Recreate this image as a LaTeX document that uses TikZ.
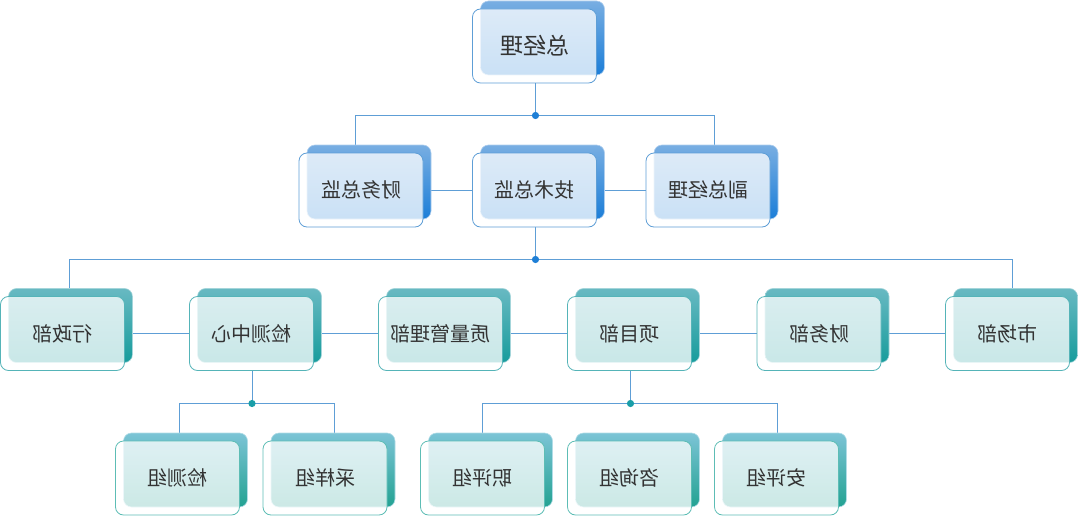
\documentclass[tikz,border=0pt]{standalone}
\usepackage{fontspec}
\newfontfamily\cjk{Noto Sans CJK SC}
\usetikzlibrary{calc}
\definecolor{lineblue}{HTML}{5E9ED6}
\definecolor{dotblue}{HTML}{1E7FD6}
\definecolor{dotteal}{HTML}{1A9EA8}
\definecolor{bordblue}{HTML}{5E9ED6}
\definecolor{bordteal}{HTML}{55B4B8}
\definecolor{bordgreen}{HTML}{5DBDB5}
\definecolor{blight}{HTML}{78AEE2}
\definecolor{bdark}{HTML}{1C7ED8}
\definecolor{tlight}{HTML}{68B9C2}
\definecolor{tdark}{HTML}{179C9C}
\definecolor{glight}{HTML}{7CC4D6}
\definecolor{gdark}{HTML}{23A292}
\definecolor{txt}{HTML}{333333}
\pgfdeclarelayer{bg}
\pgfsetlayers{bg,main}
\tikzset{
  boxbase/.style={rounded corners=8pt, minimum width=124pt, minimum height=74pt, inner sep=0pt},
  shadowbox/.style={boxbase, draw=#1!60!white, line width=0.6pt, shading angle=45},
  sblue/.style={shadowbox=blight, top color=blight, bottom color=bdark},
  steal/.style={shadowbox=tlight, top color=tlight, bottom color=tdark},
  sgreen/.style={shadowbox=glight, top color=glight, bottom color=gdark},
  frontbox/.style={boxbase, fill=white, fill opacity=0.77, text opacity=1, line width=0.8pt, text=txt, font=\cjk\fontsize{20}{24}\selectfont},
  fblue/.style={frontbox, draw=bordblue},
  fteal/.style={frontbox, draw=bordteal},
  fgreen/.style={frontbox, draw=bordgreen},
  conn/.style={draw=lineblue, line width=0.8pt},
}
\newcommand\orgnode[5]{%
  \node[s#1] (#2s) at ($(#3)+(8,-8)$) {};
  \node[f#1] (#2) at (#3) {#5};
}
\begin{document}
\begin{tikzpicture}[x=1pt,y=-1pt]
\useasboundingbox (0,0) rectangle (1078,516);
% level 0
\orgnode{blue}{zjl}{534.5,46}{}{\reflectbox{\fontsize{23}{27}\selectfont 总经理}}
% level 1
\orgnode{blue}{cwzj}{361,190}{}{\reflectbox{财务总监}}
\orgnode{blue}{jszj}{534.5,190}{}{\reflectbox{技术总监}}
\orgnode{blue}{fzjl}{708,190}{}{\reflectbox{副总经理}}
% level 2
\orgnode{teal}{xzb}{62.5,333.5}{}{\reflectbox{行政部}}
\orgnode{teal}{jczx}{251.5,333.5}{}{\reflectbox{检测中心}}
\orgnode{teal}{zlgl}{440.5,333.5}{}{\reflectbox{质量管理部}}
\orgnode{teal}{xmb}{629.5,333.5}{}{\reflectbox{项目部}}
\orgnode{teal}{cwb}{819,333.5}{}{\reflectbox{财务部}}
\orgnode{teal}{scb}{1007.5,333.5}{}{\reflectbox{市场部}}
% level 3
\orgnode{green}{jcz}{177.5,478}{}{\reflectbox{检测组}}
\orgnode{green}{cyz}{325,478}{}{\reflectbox{采样组}}
\orgnode{green}{zpz}{482.5,478}{}{\reflectbox{职评组}}
\orgnode{green}{zxz}{629.5,478}{}{\reflectbox{咨询组}}
\orgnode{green}{apz}{776.5,478}{}{\reflectbox{安评组}}
% junction coordinates
\coordinate (d1) at (535.5,115.5);
\coordinate (d2) at (535.5,259.5);
\coordinate (d3) at (252,403.5);
\coordinate (d4) at (630.5,403.5);
\begin{pgfonlayer}{bg}
  \draw[conn] (zjl.south -| d1) -- (d1);
  \draw[conn] ([xshift=-6pt]cwzj.north) |- (d1) -| ([xshift=6pt]fzjl.north);
  \draw[conn] (cwzj.east) -- (jszj.west);
  \draw[conn] (jszj.east) -- (fzjl.west);
  \draw[conn] (jszj.south -| d2) -- (d2);
  \draw[conn] ([xshift=7pt]xzb.north) |- (d2) -| ([xshift=4.5pt]scb.north);
  \draw[conn] (xzb.east) -- (jczx.west);
  \draw[conn] (jczx.east) -- (zlgl.west);
  \draw[conn] (zlgl.east) -- (xmb.west);
  \draw[conn] (xmb.east) -- (cwb.west);
  \draw[conn] (cwb.east) -- (scb.west);
  \draw[conn] (jczx.south -| d3) -- (d3);
  \draw[conn] ([xshift=1.5pt]jcz.north) |- (d3) -| ([xshift=9pt]cyz.north);
  \draw[conn] (xmb.south -| d4) -- (d4);
  \draw[conn] ([xshift=-0.5pt]zpz.north) |- (d4) -| ([xshift=0.5pt]apz.north);
\end{pgfonlayer}
\fill[dotblue] (d1) circle (3.6pt);
\fill[dotblue] (d2) circle (3.6pt);
\fill[dotteal] (d3) circle (3.6pt);
\fill[dotteal] (d4) circle (3.6pt);
\end{tikzpicture}
\end{document}
